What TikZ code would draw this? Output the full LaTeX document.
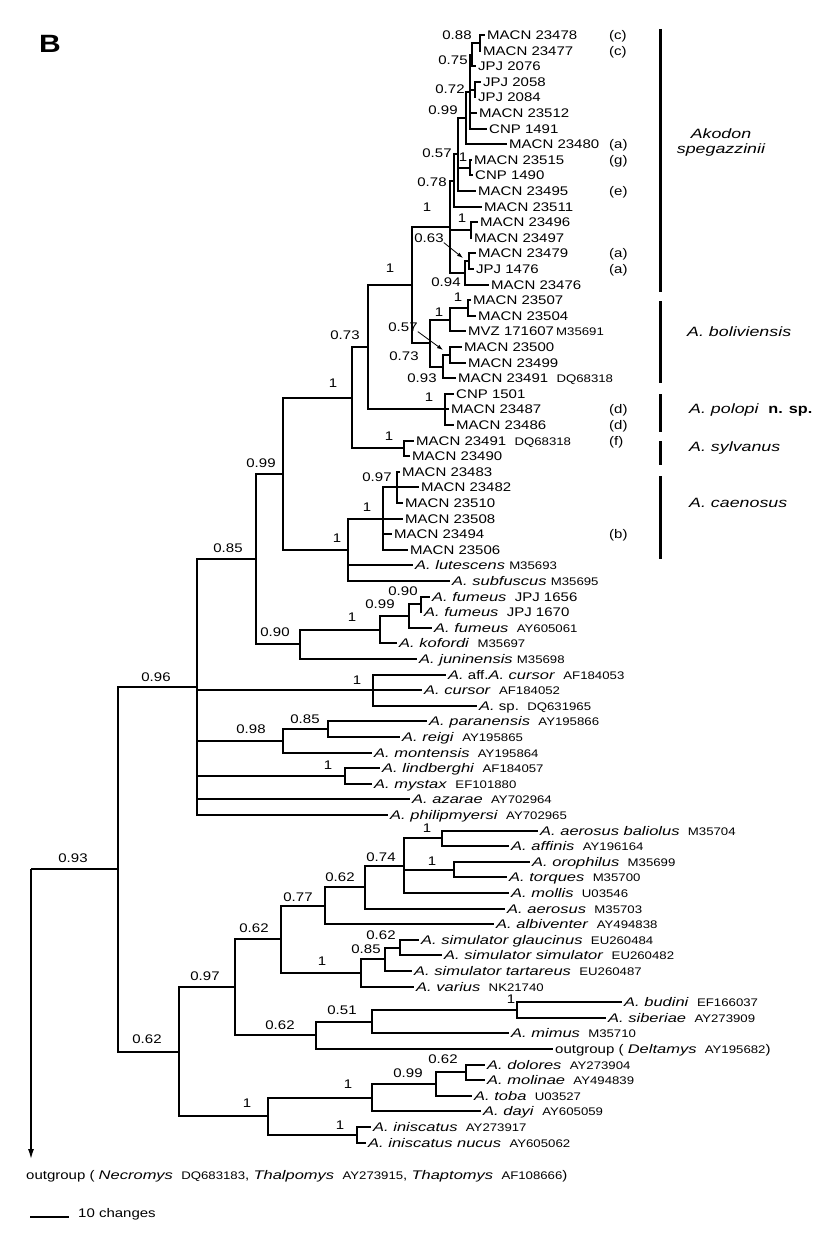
\documentclass[tikz,border=0pt]{standalone}
\usepackage{fontspec}
\setmainfont{Liberation Sans}[UprightFeatures={FakeStretch=1.2}, BoldFeatures={FakeStretch=1.2}, ItalicFeatures={FakeStretch=1.32}]
\usetikzlibrary{arrows.meta}
\newcommand{\acc}[1]{{\fontsize{11}{11}\selectfont #1}}
\tikzset{
    branch/.style={line width=2pt, black},
    tipname/.style={anchor=west, inner xsep=2pt, inner ysep=0pt, text height=9pt, text depth=0pt, font=\fontsize{12.5}{13}\selectfont},
    supp/.style={inner sep=0pt, font=\fontsize{12.5}{13}\selectfont},
    % bars and names of the clades on the right
    clademark/.style={line width=3pt, black},
    cladename/.style={anchor=west, inner sep=0pt, font=\fontsize{13.5}{15}\selectfont\itshape},
    labelarrow/.style={line width=0.8pt, -{Latex[length=6pt,width=4pt]}}
}

\begin{document}
\begin{tikzpicture}[x=1pt,y=-1pt]
\fill[white] (0,0) rectangle (839,1244);
\useasboundingbox (0,0) rectangle (839,1244);

\node[font=\fontsize{25}{25}\selectfont\bfseries] (panel) at (50,44) {B};

% terminals, one row each
\foreach \tip/\txt [count=\i from 0] in {
  485/{MACN 23478}, 481/{MACN 23477}, 476/{JPJ 2076}, 481/{JPJ 2058},
  476/{JPJ 2084}, 477/{MACN 23512}, 487/{CNP 1491}, 507/{MACN 23480},
  472/{MACN 23515}, 473/{CNP 1490}, 476/{MACN 23495}, 482/{MACN 23511},
  478/{MACN 23496}, 472/{MACN 23497}, 476/{MACN 23479}, 474/{JPJ 1476},
  489/{MACN 23476}, 471/{MACN 23507}, 476/{MACN 23504},
  466/{MVZ 171607\,\acc{M35691}}, 462/{MACN 23500}, 466/{MACN 23499},
  456/{MACN 23491\ \ \acc{DQ68318}}, 454/{CNP 1501}, 449/{MACN 23487},
  454/{MACN 23486}, 414/{MACN 23491\ \ \acc{DQ68318}}, 410/{MACN 23490},
  400/{MACN 23483}, 419/{MACN 23482}, 403/{MACN 23510}, 403/{MACN 23508},
  392/{MACN 23494}, 408/{MACN 23506},
  413/{\textit{A. lutescens}\ \acc{M35693}},
  450/{\textit{A. subfuscus}\ \acc{M35695}},
  430/{\textit{A. fumeus}\ \ JPJ 1656},
  422/{\textit{A. fumeus}\ \ JPJ 1670},
  432/{\textit{A. fumeus}\ \ \acc{AY605061}},
  397/{\textit{A. kofordi}\ \ \acc{M35697}},
  417/{\textit{A. juninensis}\ \acc{M35698}},
  446/{\textit{A.} aff.\textit{A. cursor}\ \ \acc{AF184053}},
  422/{\textit{A. cursor}\ \ \acc{AF184052}},
  477/{\textit{A.} sp.\ \ \acc{DQ631965}},
  427/{\textit{A. paranensis}\ \ \acc{AY195866}},
  400/{\textit{A. reigi}\ \ \acc{AY195865}},
  372/{\textit{A. montensis}\ \ \acc{AY195864}},
  380/{\textit{A. lindberghi}\ \ \acc{AF184057}},
  372/{\textit{A. mystax}\ \ \acc{EF101880}},
  410/{\textit{A. azarae}\ \ \acc{AY702964}},
  388/{\textit{A. philipmyersi}\ \ \acc{AY702965}},
  538/{\textit{A. aerosus baliolus}\ \ \acc{M35704}},
  509/{\textit{A. affinis}\ \ \acc{AY196164}},
  530/{\textit{A. orophilus}\ \ \acc{M35699}},
  507/{\textit{A. torques}\ \ \acc{M35700}},
  509/{\textit{A. mollis}\ \ \acc{U03546}},
  505/{\textit{A. aerosus}\ \ \acc{M35703}},
  494/{\textit{A. albiventer}\ \ \acc{AY494838}},
  419/{\textit{A. simulator glaucinus}\ \ \acc{EU260484}},
  442/{\textit{A. simulator simulator}\ \ \acc{EU260482}},
  412/{\textit{A. simulator tartareus}\ \ \acc{EU260487}},
  414/{\textit{A. varius}\ \ \acc{NK21740}},
  622/{\textit{A. budini}\ \ \acc{EF166037}},
  606/{\textit{A. siberiae}\ \ \acc{AY273909}},
  509/{\textit{A. mimus}\ \ \acc{M35710}},
  553/{outgroup ( \textit{Deltamys}\ \ \acc{AY195682})},
  485/{\textit{A. dolores}\ \ \acc{AY273904}},
  485/{\textit{A. molinae}\ \ \acc{AY494839}},
  472/{\textit{A. toba}\ \ \acc{U03527}},
  481/{\textit{A. dayi}\ \ \acc{AY605059}},
  371/{\textit{A. iniscatus}\ \ \acc{AY273917}},
  366/{\textit{A. iniscatus nucus}\ \ \acc{AY605062}}}{
  \coordinate (t\i) at (\tip,{round(35+15.6*\i)});
  \node[tipname] (l\i) at (t\i) {\txt};
}

% internal nodes
\coordinate (n088) at (480,43);
\coordinate (n075) at (472,55);
\coordinate (n072) at (475,90);
\coordinate (n099) at (470,92);
\coordinate (n466) at (466,118);
\coordinate (n1a) at (470,168);
\coordinate (n057) at (458,154);
\coordinate (n078) at (454,181);
\coordinate (n1b) at (471,230);
\coordinate (n063) at (469,261);
\coordinate (n094) at (465,273);
\coordinate (nsp) at (450,227);
\coordinate (nbo11) at (468,308);
\coordinate (nbo1) at (450,320);
\coordinate (nbo21) at (450,355);
\coordinate (nbo2) at (443,367);
\coordinate (nbo) at (430,343);
\coordinate (nx) at (412,285);
\coordinate (npo) at (445,409);
\coordinate (ny) at (368,347);
\coordinate (nsy) at (404,448);
\coordinate (nz) at (352,398);
\coordinate (nc2) at (397,487);
\coordinate (nc1) at (383,519);
\coordinate (nv) at (348,550);
\coordinate (nw) at (283,474);
\coordinate (nf3) at (421,604);
\coordinate (nf2) at (409,616);
\coordinate (nf1) at (380,630);
\coordinate (nf) at (300,644);
\coordinate (ng) at (256,559);
\coordinate (ncu) at (373,690);
\coordinate (npa1) at (328,729);
\coordinate (npa) at (283,741);
\coordinate (nli) at (345,776);
\coordinate (nh) at (197,687);
\coordinate (nab) at (442,838);
\coordinate (nor) at (454,870);
\coordinate (nq1111) at (404,866);
\coordinate (nq111) at (365,887);
\coordinate (nq11) at (325,906);
\coordinate (nsim11) at (400,948);
\coordinate (nsim1) at (385,959);
\coordinate (nsim) at (361,973);
\coordinate (nq1) at (281,939);
\coordinate (nbs) at (517,1010);
\coordinate (nq21) at (372,1022);
\coordinate (nq2) at (316,1035);
\coordinate (nq) at (235,987);
\coordinate (ndm) at (466,1072);
\coordinate (ndmt) at (436,1084);
\coordinate (nin1) at (372,1098);
\coordinate (nini) at (357,1135);
\coordinate (nin) at (268,1116);
\coordinate (nl) at (179,1052);
\coordinate (ni) at (118,869);
\coordinate (root) at (31,869);
\coordinate (outtip) at (31,1160);

% parent / children
\foreach \p/\cs in {n088/{t0,t1}, n075/{n088,t2}, n072/{t3,t4},
    n099/{n075,n072,t5,t6}, n466/{n099,t7}, n1a/{t8,t9},
    n057/{n466,n1a,t10}, n078/{n057,t11}, n1b/{t12,t13}, n063/{t14,t15},
    n094/{n063,t16}, nsp/{n078,n1b,n094}, nbo11/{t17,t18},
    nbo1/{nbo11,t19}, nbo21/{t20,t21}, nbo2/{nbo21,t22}, nbo/{nbo1,nbo2},
    nx/{nsp,nbo}, npo/{t23,t24,t25}, ny/{nx,npo}, nsy/{t26,t27},
    nz/{ny,nsy}, nc2/{t28,t29,t30}, nc1/{nc2,t31,t32,t33},
    nv/{nc1,t34,t35}, nw/{nz,nv}, nf3/{t36,t37}, nf2/{nf3,t38},
    nf1/{nf2,t39}, nf/{nf1,t40}, ng/{nw,nf}, ncu/{t41,t42,t43},
    npa1/{t44,t45}, npa/{npa1,t46}, nli/{t47,t48},
    nh/{ng,ncu,npa,nli,t49,t50}, nab/{t51,t52}, nor/{t53,t54},
    nq1111/{nab,nor,t55}, nq111/{nq1111,t56}, nq11/{nq111,t57},
    nsim11/{t58,t59}, nsim1/{nsim11,t60}, nsim/{nsim1,t61},
    nq1/{nq11,nsim}, nbs/{t62,t63}, nq21/{nbs,t64}, nq2/{nq21,t65},
    nq/{nq1,nq2}, ndm/{t66,t67}, ndmt/{ndm,t68}, nin1/{ndmt,t69},
    nini/{t70,t71}, nin/{nin1,nini}, nl/{nq,nin}, ni/{nh,nl}, root/{ni}}
  \foreach \c in \cs
    \draw[branch] (\p) |- (\c);
\draw[branch, -{Latex[length=11pt,width=6pt]}] (root) -- (outtip);

% support values
\foreach \x/\y/\v [count=\k] in {457/35/0.88, 453/60/0.75, 450/89/0.72,
    443/110/0.99, 437/153/0.57, 463/157/1, 432/182/0.78, 427/207/1,
    462/218/1, 446/282/0.94, 390/268/1, 458/297/1, 439/312/1,
    404/356/0.73, 422/378/0.93, 345/335/0.73, 333/383/1, 429/397/1,
    389/436/1, 261/463/0.99, 377/477/0.97, 367/507/1, 337/538/1,
    228/548/0.85, 275/632/0.90, 352/617/1, 380/604/0.99, 403/591/0.90,
    357/680/1, 251/729/0.98, 305/719/0.85, 328/765/1, 156/677/0.96,
    73/858/0.93, 427/828/1, 381/857/0.74, 432/861/1, 340/877/0.62,
    298/897/0.77, 254/928/0.62, 381/935/0.62, 366/949/0.85, 322/961/1,
    205/976/0.97, 511/999/1, 342/1010/0.51, 280/1025/0.62,
    147/1039/0.62, 443/1059/0.62, 408/1073/0.99, 348/1084/1,
    247/1103/1, 340/1125/1}
  \node[supp] (s\k) at (\x,\y) {\v};
\node[supp] (lab063) at (429,238) {0.63};
\coordinate (p063) at (463,258);
\draw[labelarrow] (lab063.south east) -- (p063);
\node[supp] (lab057) at (403,327) {0.57};
\coordinate (p057) at (443,350);
\draw[labelarrow] (lab057.south east) -- (p057);

% specimen notes
\foreach \i/\t in {0/c,1/c,7/a,8/g,10/e,14/a,15/a,24/d,25/d,26/f,32/b}
  \node[tipname, inner xsep=0pt] (m\i) at (609,{round(35+15.6*\i)}) {(\t)};

% clades
\draw[clademark] (660.5,29) -- (660.5,292);
\draw[clademark] (660.5,301) -- (660.5,383);
\draw[clademark] (660.5,394) -- (660.5,432);
\draw[clademark] (660.5,441) -- (660.5,465);
\draw[clademark] (660.5,476) -- (660.5,559);
\node[cladename, anchor=center, align=center] (csp) at (721,143) {Akodon\\spegazzinii};
\node[cladename] (cbo) at (687,332) {A. boliviensis};
\node[cladename] (cpo) at (689,410) {A. polopi\ \ \textup{\bfseries n. sp.}};
\node[cladename] (csy) at (689,448) {A. sylvanus};
\node[cladename] (cca) at (689,503) {A. caenosus};

\node[tipname, inner xsep=0pt] (og) at (26,1175) {outgroup ( \textit{Necromys}\ \ \acc{DQ683183}, \textit{Thalpomys}\ \ \acc{AY273915}, \textit{Thaptomys}\ \ \acc{AF108666})};
\coordinate (sb1) at (30,1217);
\coordinate (sb2) at (69,1217);
\draw[branch] (sb1) -- (sb2);
\node[tipname, inner xsep=0pt] (sbl) at (78,1213) {10 changes};
\end{tikzpicture}
\end{document}
